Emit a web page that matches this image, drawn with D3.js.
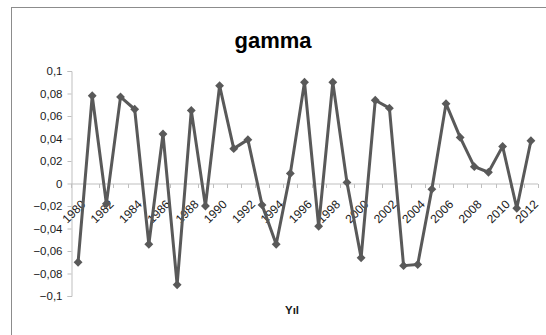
<!DOCTYPE html>
<html>
<head>
<meta charset="utf-8">
<title>gamma</title>
<script src="https://d3js.org/d3.v7.min.js"></script>
<style>
  body { margin: 0; background: #fff; }
  svg { display: block; font-family: "Liberation Sans", Arial, sans-serif; }
</style>
</head>
<body>
<svg id="chart" width="546" height="335"></svg>
<script>
const years = d3.range(1980, 2013);
const gamma = [
  -0.070, 0.078, -0.018, 0.077, 0.066, -0.054, 0.044, -0.090, 0.065, -0.020,
  0.087, 0.031, 0.039, -0.019, -0.054, 0.009, 0.090, -0.038, 0.090, 0.001,
  -0.066, 0.074, 0.067, -0.073, -0.072, -0.005, 0.071, 0.041, 0.015, 0.010,
  0.033, -0.022, 0.038
];
const yTicks = [-0.1, -0.08, -0.06, -0.04, -0.02, 0, 0.02, 0.04, 0.06, 0.08, 0.1];
const xLabels = years.filter(y => y % 2 === 0);

const svg = d3.select("#chart");

// chart frame
svg.append("rect")
  .attr("x", 11.5).attr("y", 7.5)
  .attr("width", 560).attr("height", 340)
  .attr("fill", "#fff").attr("stroke", "#8c8c8c").attr("stroke-width", 1);

const x = d3.scaleBand().domain(years).range([71, 538]);
const y = d3.scaleLinear().domain([-0.1, 0.1]).range([296, 71]);
const fmt = d => d3.format(".2~f")(d).replace(".", ",");

svg.append("text")
  .attr("x", 273).attr("y", 48)
  .attr("text-anchor", "middle")
  .attr("font-size", 22).attr("font-weight", "bold")
  .attr("fill", "#000")
  .text("gamma");

// y axis
const yAxis = svg.append("g")
  .attr("transform", "translate(71.5,0)")
  .call(d3.axisLeft(y).tickValues(yTicks).tickSize(4).tickPadding(5).tickFormat(fmt));
yAxis.select(".domain").attr("stroke", "#bfbfbf");
yAxis.selectAll(".tick line").attr("stroke", "#bfbfbf");
yAxis.selectAll("text").attr("font-size", 11.5).attr("fill", "#1a1a1a")
  .attr("font-family", "Liberation Sans, Arial, sans-serif");

// x axis on zero line
const x0 = y(0) + 0.5;
svg.append("line")
  .attr("x1", x.range()[0]).attr("x2", x.range()[1])
  .attr("y1", x0).attr("y2", x0)
  .attr("stroke", "#bfbfbf");
svg.selectAll("line.tk")
  .data(years.concat([null]))
  .join("line")
  .attr("class", "tk")
  .attr("x1", (d, i) => Math.round(x.range()[0] + i * x.step()) + 0.5)
  .attr("x2", (d, i) => Math.round(x.range()[0] + i * x.step()) + 0.5)
  .attr("y1", x0).attr("y2", x0 + 4)
  .attr("stroke", "#bfbfbf");

const lbl = svg.selectAll("g.xl")
  .data(xLabels)
  .join("g")
  .attr("class", "xl")
  .attr("transform", d => "translate(" + (x(d) + x.bandwidth() / 2 + 2) + "," + (x0 + 15) + ")");
lbl.append("text")
  .attr("transform", "rotate(-45)")
  .attr("text-anchor", "end")
  .attr("dy", "0.72em")
  .attr("font-size", 12).attr("fill", "#1a1a1a")
  .text(d => d);

svg.append("text")
  .attr("x", 292).attr("y", 314)
  .attr("text-anchor", "middle")
  .attr("font-size", 11.5).attr("font-weight", "bold").attr("fill", "#1a1a1a")
  .text("Yıl");

// series
const cx = d => x(d) + x.bandwidth() / 2;
const line = d3.line().x((d, i) => cx(years[i])).y(d => y(d));
svg.append("path")
  .attr("d", line(gamma))
  .attr("fill", "none")
  .attr("stroke", "#595959")
  .attr("stroke-width", 3)
  .attr("stroke-linejoin", "round");

svg.selectAll("path.pt")
  .data(gamma)
  .join("path")
  .attr("class", "pt")
  .attr("d", d3.symbol(d3.symbolDiamond2, 50))
  .attr("transform", (d, i) => `translate(${cx(years[i])},${y(d)})`)
  .attr("fill", "#595959");
</script>
</body>
</html>
